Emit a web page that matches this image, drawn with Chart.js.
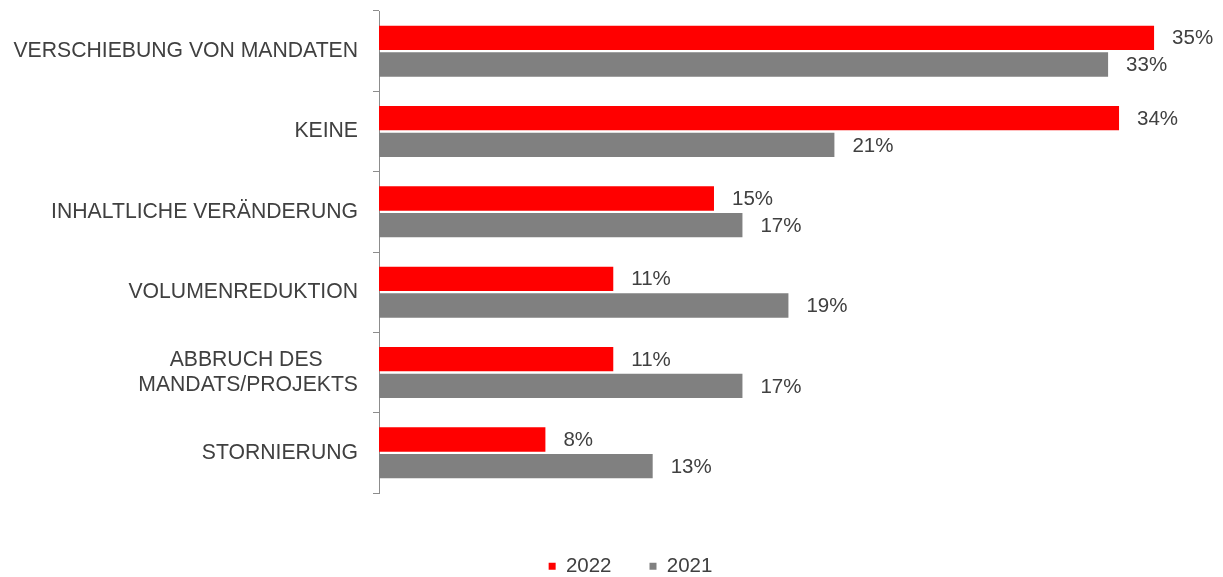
<!DOCTYPE html>
<html>
<head>
<meta charset="utf-8">
<script src="https://cdn.jsdelivr.net/npm/chart.js@4.4.0/dist/chart.umd.min.js"></script>
<style>
  html, body { margin: 0; padding: 0; background: #fff; }
  #wrap { width: 1223px; height: 577px; }
</style>
</head>
<body>
<div id="wrap"><canvas id="chart"></canvas></div>
<script>
const categories = [
  "VERSCHIEBUNG VON MANDATEN",
  "KEINE",
  "INHALTLICHE VERÄNDERUNG",
  "VOLUMENREDUKTION",
  ["ABBRUCH DES      ", "MANDATS/PROJEKTS"],
  "STORNIERUNG"
];
const values2022 = [35.4, 33.8, 15.3, 10.7, 10.7, 7.6];
const values2021 = [33.3, 20.8, 16.6, 18.7, 16.6, 12.5];
const seriesNames = ["2022", "2021"];

const textColor = "#404040";
const fontFamily = "'Liberation Sans', Arial, sans-serif";

// percent labels right of each bar
const valueLabels = {
  id: "valueLabels",
  afterDatasetsDraw(chart) {
    const ctx = chart.ctx;
    ctx.save();
    ctx.font = "20.5px " + fontFamily;
    ctx.fillStyle = textColor;
    ctx.textAlign = "left";
    ctx.textBaseline = "middle";
    chart.data.datasets.forEach((ds, i) => {
      chart.getDatasetMeta(i).data.forEach((bar, j) => {
        ctx.fillText(Math.round(ds.data[j]) + "%", bar.x + 18, bar.y + 1);
      });
    });
    ctx.restore();
  }
};

// legend sits a bit right of the canvas centre in the original
const legendShift = {
  id: "legendShift",
  afterLayout(chart) {
    if (chart.legend) {
      chart.legend.left += 25;
      chart.legend.right += 25;
    }
  }
};

new Chart(document.getElementById("chart"), {
  type: "bar",
  data: {
    labels: categories,
    datasets: [
      { label: seriesNames[0], data: values2022, backgroundColor: "#FF0000",
        categoryPercentage: 0.665, barPercentage: 0.91 },
      { label: seriesNames[1], data: values2021, backgroundColor: "#808080",
        categoryPercentage: 0.665, barPercentage: 0.91 }
    ]
  },
  options: {
    indexAxis: "y",
    responsive: true,
    maintainAspectRatio: false,
    animation: false,
    layout: { padding: { top: 11, right: 12, bottom: 0, left: 0 } },
    scales: {
      x: {
        min: 0,
        max: 38,
        afterFit(scale) { scale.height = 25; },
        ticks: { display: false },
        grid: { display: false },
        border: { display: false }
      },
      y: {
        afterFit(scale) {
          scale.width = 379;
          scale.paddingTop = 0;
          scale.paddingBottom = 0;
        },
        grid: { drawOnChartArea: false, drawTicks: true, tickLength: 6, color: "#8c8c8c" },
        border: { display: true, color: "#8c8c8c" },
        ticks: {
          color: textColor,
          padding: 15,
          font: { family: fontFamily, size: 21.2, lineHeight: 1.15 }
        }
      }
    },
    plugins: {
      tooltip: { enabled: false },
      legend: {
        position: "bottom",
        maxHeight: 59,
        labels: {
          color: textColor,
          boxWidth: 7,
          boxHeight: 7,
          padding: 38,
          font: { family: fontFamily, size: 20.5 }
        }
      }
    }
  },
  plugins: [valueLabels, legendShift]
});
</script>
</body>
</html>
